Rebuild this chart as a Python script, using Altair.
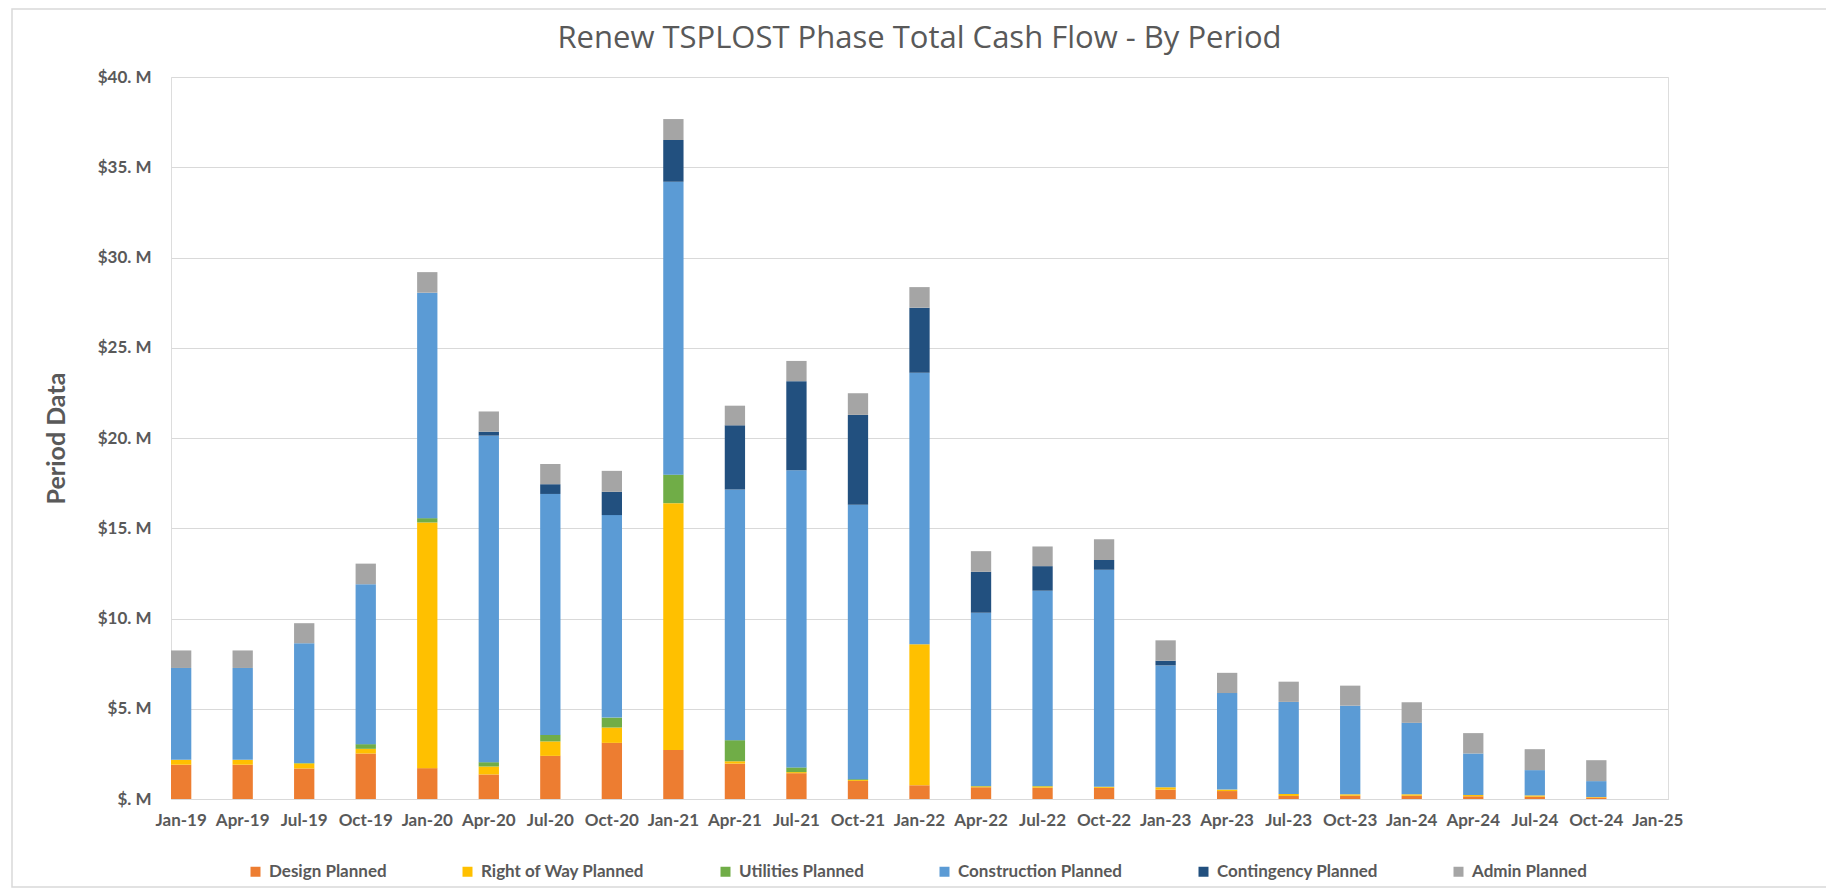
import altair as alt
import pandas as pd

# ---- data (values in $ millions) ----
periods = ["Jan-19", "Apr-19", "Jul-19", "Oct-19", "Jan-20", "Apr-20", "Jul-20", "Oct-20",
           "Jan-21", "Apr-21", "Jul-21", "Oct-21", "Jan-22", "Apr-22", "Jul-22", "Oct-22",
           "Jan-23", "Apr-23", "Jul-23", "Oct-23", "Jan-24", "Apr-24", "Jul-24", "Oct-24"]
axis_periods = periods + ["Jan-25"]

design = [1.90, 1.90, 1.69, 2.52, 1.71, 1.36, 2.39, 3.11, 2.72, 1.96, 1.43, 1.00,
          0.76, 0.65, 0.63, 0.62, 0.52, 0.44, 0.17, 0.18, 0.18, 0.15, 0.13, 0.08]
right_of_way = [0.27, 0.27, 0.28, 0.26, 13.61, 0.44, 0.80, 0.85, 13.67, 0.13, 0.06, 0.05,
                7.82, 0.05, 0.07, 0.06, 0.13, 0.08, 0.11, 0.08, 0.08, 0.07, 0.07, 0.03]
utilities = [0.00, 0.00, 0.03, 0.26, 0.24, 0.24, 0.36, 0.55, 1.58, 1.17, 0.26, 0.05,
             0.00, 0.02, 0.02, 0.00, 0.00, 0.00, 0.00, 0.00, 0.00, 0.00, 0.00, 0.00]
construction = [5.09, 5.09, 6.63, 8.86, 12.49, 18.09, 13.35, 11.22, 16.22, 13.89, 16.47, 15.20,
                15.04, 9.60, 10.82, 12.02, 6.75, 5.35, 5.10, 4.91, 3.96, 2.30, 1.40, 0.88]
contingency = [0.00, 0.00, 0.00, 0.00, 0.00, 0.22, 0.54, 1.29, 2.32, 3.55, 4.93, 4.98,
               3.60, 2.27, 1.36, 0.54, 0.26, 0.00, 0.00, 0.00, 0.00, 0.00, 0.00, 0.00]
admin = [0.97, 0.97, 1.11, 1.14, 1.14, 1.12, 1.12, 1.16, 1.16, 1.09, 1.12, 1.20,
         1.14, 1.14, 1.09, 1.15, 1.13, 1.12, 1.12, 1.11, 1.14, 1.13, 1.16, 1.16]

series_names = ["Design Planned", "Right of Way Planned", "Utilities Planned",
                "Construction Planned", "Contingency Planned", "Admin Planned"]
series_colors = ["#ED7D31", "#FFC000", "#70AD47", "#5B9BD5", "#22507F", "#A5A5A5"]
y_ticks = [0, 5, 10, 15, 20, 25, 30, 35, 40]

series_values = [design, right_of_way, utilities, construction, contingency, admin]
rows = []
for si, (name, vals) in enumerate(zip(series_names, series_values)):
    for p, v in zip(periods, vals):
        rows.append({"period": p, "series": name, "value": v, "order": si})
df = pd.DataFrame(rows)

TEXT = "#595959"
GRID = "#D9D9D9"
W, H = 1497, 722

bars = alt.Chart(df).mark_bar().encode(
    x=alt.X("period:N",
            sort=axis_periods,
            scale=alt.Scale(domain=axis_periods, paddingInner=0.67, paddingOuter=0),
            axis=alt.Axis(title=None, labelAngle=0, ticks=False, domain=True,
                          domainColor=GRID, domainWidth=1,
                          labelFont="Lato", labelFontWeight="bold", labelFontSize=17,
                          labelColor=TEXT, labelPadding=13)),
    y=alt.Y("value:Q", stack="zero",
            scale=alt.Scale(domain=[0, 40], nice=False),
            axis=alt.Axis(values=y_ticks, grid=True, gridColor=GRID, gridWidth=1,
                          domain=False, ticks=False,
                          labelExpr="datum.value == 0 ? '$. M' : '$' + datum.value + '. M'",
                          labelFont="Lato", labelFontWeight="bold", labelFontSize=17,
                          labelColor=TEXT, labelPadding=20,
                          title="Period Data", titleFont="Lato", titleFontWeight="bold",
                          titleFontSize=25, titleColor=TEXT, titlePadding=28)),
    color=alt.Color("series:N",
                    scale=alt.Scale(domain=series_names, range=series_colors),
                    legend=alt.Legend(title=None, orient="none", direction="horizontal",
                                      columns=6, legendX=76, legendY=786,
                                      symbolType="square", symbolSize=100,
                                      symbolStrokeWidth=0, labelFont="Lato",
                                      labelFontWeight="bold", labelFontSize=17,
                                      labelColor=TEXT, labelOffset=5, labelLimit=400,
                                      columnPadding=72)),
    order=alt.Order("order:Q", sort="ascending"),
)

frame = alt.Chart(pd.DataFrame({"f": [0]})).mark_rect(
    filled=False, stroke=GRID, strokeWidth=1.5
).encode(
    x=alt.value(-159), x2=alt.value(W + 160),
    y=alt.value(-68), y2=alt.value(H + 88),
)

chart = alt.layer(frame, bars).properties(
    width=W, height=H,
    title=alt.TitleParams("Renew TSPLOST Phase Total Cash Flow - By Period",
                          font="Open Sans", fontSize=31, fontWeight="normal",
                          color=TEXT, anchor="middle", frame="group", offset=18, dy=65),
    autosize=alt.AutoSizeParams(type="none"),
    padding={"left": 163, "top": 69, "right": 158, "bottom": 90},
).configure_view(stroke=None).configure(background="white")

chart.save("out.html", embed_options={"renderer": "svg", "actions": False})
